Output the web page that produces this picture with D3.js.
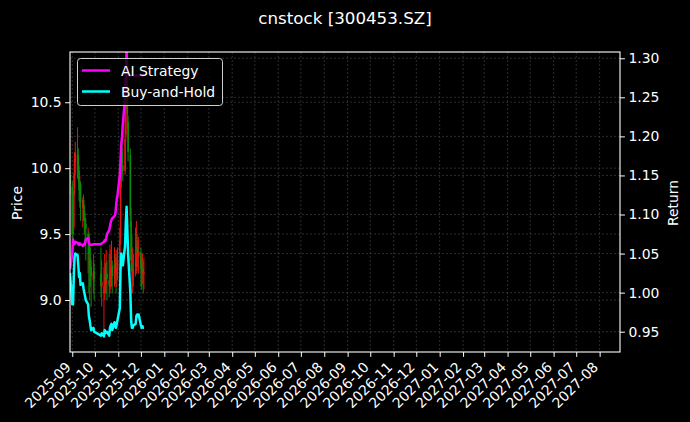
<!DOCTYPE html>
<html>
<head>
<meta charset="utf-8">
<script src="https://cdn.jsdelivr.net/npm/d3@7"></script>
<style>
  body { margin: 0; background: #000; }
  text { font-family: 'DejaVu Sans', sans-serif; fill: #fff; }
</style>
</head>
<body>
<div id="chart"></div>
<script>
// Data

let dates = [
  '2025-08-29', '2025-09-01', '2025-09-02', '2025-09-03', '2025-09-04', '2025-09-05',
  '2025-09-08', '2025-09-09', '2025-09-10', '2025-09-11', '2025-09-12',
  '2025-09-15', '2025-09-16', '2025-09-17', '2025-09-18', '2025-09-19',
  '2025-09-22', '2025-09-23', '2025-09-24', '2025-09-25', '2025-09-26',
  '2025-09-29', '2025-09-30', '2025-10-09', '2025-10-10',
  '2025-10-13', '2025-10-14', '2025-10-15', '2025-10-16', '2025-10-17',
  '2025-10-20', '2025-10-21', '2025-10-22', '2025-10-23', '2025-10-24',
  '2025-10-27', '2025-10-28', '2025-10-29', '2025-10-30', '2025-10-31',
  '2025-11-03', '2025-11-04', '2025-11-05', '2025-11-06', '2025-11-07',
  '2025-11-10', '2025-11-11', '2025-11-12', '2025-11-13', '2025-11-14',
  '2025-11-17', '2025-11-18', '2025-11-19', '2025-11-20', '2025-11-21',
  '2025-11-24', '2025-11-25', '2025-11-26', '2025-11-27', '2025-11-28',
  '2025-12-01', '2025-12-02', '2025-12-03', '2025-12-04', '2025-12-05'
];

let open = [
  9.95, 9.86, 9.52, 9.55, 9.85, 10.05,
  9.98, 10.10, 9.98, 9.80, 9.88,
  9.70, 9.76, 9.68, 9.62, 9.58,
  9.45, 9.50, 9.28, 9.32, 9.25,
  9.15, 9.22, 9.20, 9.10,
  9.05, 9.10, 9.20, 9.12, 9.20,
  9.15, 9.10, 9.20, 9.22, 9.26,
  9.18, 9.28, 9.25, 9.20, 9.24,
  9.30, 9.48, 9.92, 10.12, 10.02,
  9.98, 10.25, 10.50, 10.68, 10.35,
  10.10, 9.60, 9.28, 9.15, 9.20,
  9.30, 9.25, 9.40, 9.38, 9.33,
  9.36, 9.25, 9.20, 9.24, 9.20
];

let high = [
  9.98, 9.90, 9.70, 9.96, 10.12, 10.20,
  10.31, 10.15, 10.02, 9.95, 9.90,
  9.78, 9.80, 9.72, 9.66, 9.62,
  9.55, 9.52, 9.45, 9.40, 9.30,
  9.35, 9.28, 9.40, 9.30,
  9.25, 9.35, 9.28, 9.38, 9.30,
  9.35, 9.42, 9.38, 9.45, 9.30,
  9.40, 9.35, 9.32, 9.38, 9.40,
  9.55, 10.00, 10.20, 10.25, 10.15,
  10.49, 10.70, 10.85, 10.75, 10.40,
  10.15, 9.70, 9.50, 9.40, 9.35,
  9.55, 9.60, 9.50, 9.45, 9.48,
  9.40, 9.32, 9.35, 9.30, 9.32
];

let low = [
  9.80, 9.46, 9.45, 9.52, 9.80, 9.95,
  9.92, 9.90, 9.75, 9.70, 9.60,
  9.55, 9.60, 9.50, 9.40, 9.30,
  9.20, 9.05, 9.00, 9.10, 8.95,
  9.05, 9.00, 9.02, 8.95,
  8.72, 9.00, 9.05, 9.05, 9.00,
  9.02, 9.05, 9.08, 9.10, 9.05,
  9.10, 9.12, 9.05, 9.10, 9.15,
  9.22, 9.42, 9.85, 9.95, 9.90,
  9.95, 10.20, 10.45, 10.30, 10.05,
  9.55, 9.22, 9.05, 9.05, 9.10,
  9.18, 9.20, 9.25, 9.22, 9.20,
  9.10, 9.08, 9.12, 9.05, 9.08
];

let close = [
  9.88, 9.50, 9.50, 9.83, 10.07, 10.12,
  10.10, 9.98, 9.83, 9.88, 9.74,
  9.76, 9.69, 9.64, 9.59, 9.54,
  9.50, 9.35, 9.30, 9.24, 9.18,
  9.21, 9.16, 9.11, 9.14,
  9.10, 9.18, 9.14, 9.16, 9.16,
  9.11, 9.21, 9.24, 9.25, 9.18,
  9.27, 9.24, 9.21, 9.25, 9.30,
  9.45, 9.93, 10.12, 10.03, 9.98,
  10.22, 10.51, 10.70, 10.41, 10.12,
  9.64, 9.30, 9.21, 9.21, 9.24,
  9.25, 9.35, 9.37, 9.35, 9.37,
  9.24, 9.21, 9.23, 9.21, 9.21
];

let aiStrategy = [
  1.030, 1.050, 1.068, 1.062, 1.062, 1.065,
  1.064, 1.062, 1.061, 1.063, 1.062,
  1.060, 1.062, 1.061, 1.063, 1.068,
  1.070, 1.064, 1.062, 1.061, 1.061,
  1.062, 1.062, 1.062, 1.063,
  1.065, 1.067, 1.066, 1.070, 1.075,
  1.080, 1.085, 1.090, 1.093, 1.095,
  1.098, 1.100, 1.110, 1.120, 1.125,
  1.150, 1.170, 1.190, 1.200, 1.215,
  1.250, 1.280, 1.310, 1.278, 1.278,
  1.278, 1.278, 1.278, 1.278, 1.278,
  1.278, 1.278, 1.278, 1.278, 1.278,
  1.278, 1.278, 1.278, 1.278, 1.278
];

let buyHold = [
  1.025, 0.985, 0.985, 1.020, 1.045, 1.050,
  1.048, 1.035, 1.020, 1.025, 1.010,
  1.012, 1.005, 1.000, 0.995, 0.990,
  0.985, 0.970, 0.965, 0.958, 0.952,
  0.955, 0.950, 0.945, 0.948,
  0.944, 0.952, 0.948, 0.950, 0.950,
  0.945, 0.955, 0.958, 0.960, 0.952,
  0.962, 0.958, 0.955, 0.960, 0.965,
  0.980, 1.030, 1.050, 1.040, 1.035,
  1.060, 1.090, 1.110, 1.080, 1.050,
  1.000, 0.965, 0.955, 0.955, 0.958,
  0.960, 0.970, 0.972, 0.970, 0.972,
  0.958, 0.955, 0.957, 0.955, 0.955
];

let monthTicks = [
  '2025-09', '2025-10', '2025-11', '2025-12', '2026-01', '2026-02', '2026-03', '2026-04',
  '2026-05', '2026-06', '2026-07', '2026-08', '2026-09', '2026-10', '2026-11', '2026-12',
  '2027-01', '2027-02', '2027-03', '2027-04', '2027-05', '2027-06', '2027-07', '2027-08'
];
let priceTicks = [9.0, 9.5, 10.0, 10.5];
let returnTicks = [0.95, 1.0, 1.05, 1.1, 1.15, 1.2, 1.25, 1.3];

// D3 Code
let width = 690;
let height = 422;
let plotLeft = 70, plotRight = 620, plotTop = 52, plotBottom = 352;

let parseDay = d3.timeParse('%Y-%m-%d');
let parseMonth = d3.timeParse('%Y-%m');
let days = dates.map(parseDay);

let x = d3
  .scaleTime()
  .domain([parseDay('2025-08-29'), parseDay('2027-08-28')])
  .range([plotLeft, plotRight]);

let y = d3.scaleLinear().domain([8.606, 10.881]).range([plotBottom, plotTop]);
let y2 = d3.scaleLinear().domain([0.924, 1.308]).range([plotBottom, plotTop]);

let svg = d3.select('#chart').append('svg').attr('width', width).attr('height', height);

svg.append('rect').attr('width', width).attr('height', height).style('fill', '#000');

svg
  .append('clipPath')
  .attr('id', 'plot')
  .append('rect')
  .attr('x', plotLeft)
  .attr('y', plotTop)
  .attr('width', plotRight - plotLeft)
  .attr('height', plotBottom - plotTop);

function grid(sel) {
  sel
    .style('stroke', '#4a4a4a')
    .style('stroke-width', 0.6)
    .style('stroke-dasharray', '2,2');
}

// grids
svg
  .append('g')
  .selectAll('line')
  .data(monthTicks)
  .enter()
  .append('line')
  .attr('x1', d => x(parseMonth(d)))
  .attr('x2', d => x(parseMonth(d)))
  .attr('y1', plotTop)
  .attr('y2', plotBottom)
  .call(grid);

svg
  .append('g')
  .selectAll('line')
  .data(priceTicks)
  .enter()
  .append('line')
  .attr('x1', plotLeft)
  .attr('x2', plotRight)
  .attr('y1', d => y(d))
  .attr('y2', d => y(d))
  .call(grid);

// candles
let candles = svg.append('g').attr('clip-path', 'url(#plot)');
let colorOf = i => (close[i] >= open[i] ? '#e3150e' : '#0c8a0c');

candles
  .selectAll('line.wick')
  .data(days)
  .enter()
  .append('line')
  .attr('class', 'wick')
  .attr('x1', d => x(d))
  .attr('x2', d => x(d))
  .attr('y1', (d, i) => y(high[i]))
  .attr('y2', (d, i) => y(low[i]))
  .style('stroke', (d, i) => colorOf(i))
  .style('stroke-width', 1);

candles
  .selectAll('line.body')
  .data(days)
  .enter()
  .append('line')
  .attr('class', 'body')
  .attr('x1', d => x(d))
  .attr('x2', d => x(d))
  .attr('y1', (d, i) => y(open[i]))
  .attr('y2', (d, i) => y(close[i]))
  .style('stroke', (d, i) => colorOf(i))
  .style('stroke-width', 1.6);

// return grid (twin axis)
svg
  .append('g')
  .selectAll('line')
  .data(returnTicks)
  .enter()
  .append('line')
  .attr('x1', plotLeft)
  .attr('x2', plotRight)
  .attr('y1', d => y2(d))
  .attr('y2', d => y2(d))
  .call(grid);

// return lines
let lines = svg.append('g').attr('clip-path', 'url(#plot)');

let line = d3
  .line()
  .x((d, i) => x(days[i]))
  .y(d => y2(d));

lines
  .append('path')
  .datum(aiStrategy)
  .attr('d', line)
  .style('fill', 'none')
  .style('stroke', '#ff00ff')
  .style('stroke-width', 2.5)
  .style('stroke-linejoin', 'round');

lines
  .append('path')
  .datum(buyHold)
  .attr('d', line)
  .style('fill', 'none')
  .style('stroke', '#00ffff')
  .style('stroke-width', 2.5)
  .style('stroke-linejoin', 'round');

// axes
let fontSize = '13.9px';

let xAxis = svg
  .append('g')
  .attr('transform', 'translate(0,' + plotBottom + ')')
  .call(
    d3
      .axisBottom(x)
      .tickValues(monthTicks.map(parseMonth))
      .tickFormat(d3.timeFormat('%Y-%m'))
      .tickSize(4.9)
      .tickPadding(3.5)
  );

xAxis
  .selectAll('text')
  .attr('text-anchor', 'end')
  .attr('dy', null)
  .attr('y', 0)
  .attr('transform', 'translate(-1,16) rotate(-45)');

let yAxis = svg
  .append('g')
  .attr('transform', 'translate(' + plotLeft + ',0)')
  .call(d3.axisLeft(y).tickValues(priceTicks).tickFormat(d3.format('.1f')).tickSize(4.9).tickPadding(3.5));

let yAxis2 = svg
  .append('g')
  .attr('transform', 'translate(' + plotRight + ',0)')
  .call(d3.axisRight(y2).tickValues(returnTicks).tickFormat(d3.format('.2f')).tickSize(4.9).tickPadding(3.5));

[xAxis, yAxis, yAxis2].forEach(function (g) {
  g.select('.domain').remove();
  g.selectAll('line').style('stroke', '#fff').style('stroke-width', 1);
  g.selectAll('text')
    .style('font-size', fontSize)
    .style('fill', '#fff')
    .style('font-family', "'DejaVu Sans', sans-serif");
});

svg
  .append('rect')
  .attr('x', plotLeft)
  .attr('y', plotTop)
  .attr('width', plotRight - plotLeft)
  .attr('height', plotBottom - plotTop)
  .style('fill', 'none')
  .style('stroke', '#fff')
  .style('stroke-width', 1.1);

// labels
svg
  .append('text')
  .attr('x', 345)
  .attr('y', 24)
  .attr('text-anchor', 'middle')
  .style('font-size', '16.7px')
  .text('cnstock [300453.SZ]');

svg
  .append('text')
  .attr('transform', 'translate(22,203) rotate(-90)')
  .attr('text-anchor', 'middle')
  .style('font-size', fontSize)
  .text('Price');

svg
  .append('text')
  .attr('transform', 'translate(678,203) rotate(-90)')
  .attr('text-anchor', 'middle')
  .style('font-size', fontSize)
  .text('Return');

// legend
let legendItems = [
  { name: 'AI Strategy', color: '#ff00ff' },
  { name: 'Buy-and-Hold', color: '#00ffff' }
];

let legend = svg.append('g');

legend
  .append('rect')
  .attr('x', 77.5)
  .attr('y', 58.5)
  .attr('width', 145)
  .attr('height', 47)
  .attr('rx', 3)
  .style('fill', '#000')
  .style('fill-opacity', 0.8)
  .style('stroke', '#d0d0d0')
  .style('stroke-width', 1);

legendItems.forEach(function (item, i) {
  let ly = 70.5 + i * 21;
  legend
    .append('line')
    .attr('x1', 82)
    .attr('x2', 110)
    .attr('y1', ly)
    .attr('y2', ly)
    .style('stroke', item.color)
    .style('stroke-width', 2.5);
  legend
    .append('text')
    .attr('x', 121)
    .attr('y', ly + 5)
    .style('font-size', fontSize)
    .text(item.name);
});
</script>
</body>
</html>
